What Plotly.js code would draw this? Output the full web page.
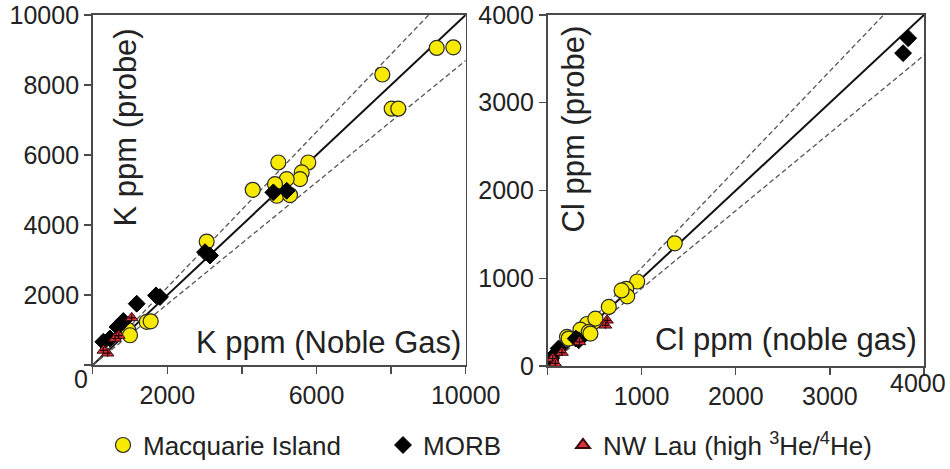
<!DOCTYPE html>
<html>
<head>
<meta charset="utf-8">
<script src="https://cdn.plot.ly/plotly-3.0.1.min.js"></script>
<style>html,body{margin:0;padding:0;background:#fff;}#chart{width:950px;height:469px;}</style>
</head>
<body>
<div id="chart"></div>
<script>
// ---- K panel data (ppm): noble gas (x) vs probe (y)
const macK_x = [9223, 9668, 7764, 8016, 8193, 4976, 5780, 5603, 5558, 5201, 4290, 4887, 4933, 5290, 3056, 1448, 1555, 955, 1000];
const macK_y = [9058, 9076, 8299, 7323, 7323, 5787, 5787, 5502, 5312, 5312, 5007, 5169, 4837, 4857, 3528, 1235, 1252, 996, 853];
const morbK_x = [4843, 5201, 3145, 3011, 1697, 1804, 1180, 821, 665, 285, 464];
const morbK_y = [4933, 4979, 3130, 3226, 1992, 1946, 1755, 1260, 1092, 666, 760];
const lauK_x = [1046, 700, 598, 400, 285];
const lauK_y = [1350, 845, 760, 340, 420];

// ---- Cl panel data (ppm)
const macCl_x = [1352, 953, 836, 847, 787, 651, 491, 420, 509, 350, 438, 207, 225, 456];
const macCl_y = [1399, 964, 881, 795, 862, 674, 503, 480, 541, 415, 390, 333, 314, 371];
const morbCl_x = [3832, 3778, 40, 118, 300, 331];
const morbCl_y = [3735, 3565, 90, 201, 314, 295];
const lauCl_x = [633, 616, 340, 154, 55, 83];
const lauCl_y = [522, 465, 276, 155, 87, 31];

// ---- reference lines (1:1 and bounding dashed lines)
const kLineX = [0, 10000];
const clLineX = [0, 4000];
const kSlopes = {upper: 1.11, lower: 0.87};
const clSlopes = {upper: 1.12, lower: 0.885};

// ---- ticks and labels
const kTickVals = [0, 2000, 4000, 6000, 8000, 10000];
const kXTickText = ['', '2000', '', '6000', '', '10000'];
const kYTickText = ['', '2000', '4000', '6000', '8000', '10000'];
const clTickVals = [0, 1000, 2000, 3000, 4000];
const clXTickText = ['', '1000', '2000', '3000', ''];
const clYTickText = ['0', '1000', '2000', '3000', '4000'];
const clLastXLabel = '4000';
const kCornerLabel = '0';
const seriesNames = ['Macquarie Island', 'MORB', 'NW Lau (high <sup>3</sup>He/<sup>4</sup>He)'];

const FONT = 'Arial, "Liberation Sans", Helvetica, sans-serif';
const W = 950, H = 469;
const px = v => v / W;
const py = v => 1 - v / H;

function lineTraces(xs, slopes, xa, ya, xmax) {
  const out = [];
  out.push({x: xs, y: xs.map(v => v), mode: 'lines', xaxis: xa, yaxis: ya,
    line: {color: '#111', width: 2}, showlegend: false, hoverinfo: 'skip'});
  // upper dashed: clip at top of the frame
  const ux = [xs[0], xmax / slopes.upper];
  out.push({x: ux, y: ux.map(v => v * slopes.upper), mode: 'lines', xaxis: xa, yaxis: ya,
    line: {color: '#555', width: 1.3, dash: '5px,3px'}, showlegend: false, hoverinfo: 'skip'});
  out.push({x: xs, y: xs.map(v => v * slopes.lower), mode: 'lines', xaxis: xa, yaxis: ya,
    line: {color: '#555', width: 1.3, dash: '5px,3px'}, showlegend: false, hoverinfo: 'skip'});
  return out;
}

const yellow = {symbol: 'circle', size: 15, color: '#f7ea00', line: {color: '#2a2a2a', width: 1.2}};
const black = {symbol: 'diamond', size: 13, color: '#000', line: {color: '#000', width: 1}};
const red = {symbol: 'triangle-up', size: 11, color: '#d8333c', line: {color: '#3a0a0a', width: 1}};
const cross = {symbol: 'cross-thin', size: 5, color: '#2a0000', line: {color: '#2a0000', width: 1.2}};

const data = [
  ...lineTraces(kLineX, kSlopes, 'x', 'y', 10000),
  ...lineTraces(clLineX, clSlopes, 'x2', 'y2', 4000),
  {x: macK_x, y: macK_y, mode: 'markers', marker: yellow, xaxis: 'x', yaxis: 'y', name: seriesNames[0], legend: 'legend', showlegend: true},
  {x: macCl_x, y: macCl_y, mode: 'markers', marker: yellow, xaxis: 'x2', yaxis: 'y2', showlegend: false},
  {x: morbK_x, y: morbK_y, mode: 'markers', marker: black, xaxis: 'x', yaxis: 'y', name: seriesNames[1], legend: 'legend2', showlegend: true},
  {x: morbCl_x, y: morbCl_y, mode: 'markers', marker: black, xaxis: 'x2', yaxis: 'y2', showlegend: false},
  {x: lauK_x, y: lauK_y, mode: 'markers', marker: red, xaxis: 'x', yaxis: 'y', name: seriesNames[2], legend: 'legend3', showlegend: true},
  {x: lauCl_x, y: lauCl_y, mode: 'markers', marker: red, xaxis: 'x2', yaxis: 'y2', showlegend: false},
  {x: lauK_x, y: lauK_y, mode: 'markers', marker: cross, xaxis: 'x', yaxis: 'y', showlegend: false, hoverinfo: 'skip'},
  {x: lauCl_x, y: lauCl_y, mode: 'markers', marker: cross, xaxis: 'x2', yaxis: 'y2', showlegend: false, hoverinfo: 'skip'}
];

const axisCommon = {
  showgrid: false, zeroline: false, showline: true, mirror: true,
  linecolor: '#4a4a4a', linewidth: 1.6, ticks: 'outside', ticklen: 7, tickwidth: 1.4,
  tickcolor: '#4a4a4a', tickfont: {family: FONT, size: 25, color: '#222'}, tickmode: 'array',
  ticklabeloverflow: 'allow'
};

const legendCommon = {orientation: 'h', yanchor: 'middle', xanchor: 'left', bgcolor: 'rgba(0,0,0,0)',
  font: {family: FONT, size: 26, color: '#222'}, itemclick: false, itemdoubleclick: false};

const titleFont = {family: FONT, size: 31, color: '#222'};
const tickFont = {family: FONT, size: 25, color: '#222'};

const layout = {
  width: W, height: H,
  margin: {l: 0, r: 0, t: 0, b: 0},
  paper_bgcolor: '#fff', plot_bgcolor: '#fff',
  showlegend: true,
  xaxis: Object.assign({}, axisCommon, {domain: [px(92.7), px(465.7)], range: [0, 10000], anchor: 'y',
    tickvals: kTickVals, ticktext: kXTickText}),
  yaxis: Object.assign({}, axisCommon, {domain: [py(366.7), py(15)], range: [0, 10000], anchor: 'x',
    tickvals: kTickVals, ticktext: kYTickText}),
  xaxis2: Object.assign({}, axisCommon, {domain: [px(547.5), px(924)], range: [0, 4000], anchor: 'y2',
    tickvals: clTickVals, ticktext: clXTickText}),
  yaxis2: Object.assign({}, axisCommon, {domain: [py(367.7), py(15)], range: [0, 4000], anchor: 'x2',
    tickvals: clTickVals, ticktext: clYTickText}),
  legend: Object.assign({}, legendCommon, {x: px(103), y: py(447)}),
  legend2: Object.assign({}, legendCommon, {x: px(383), y: py(447)}),
  legend3: Object.assign({}, legendCommon, {x: px(563), y: py(447), itemsizing: 'constant'}),
  annotations: [
    {text: 'K ppm (probe)', textangle: -90, x: px(125), y: py(128), xref: 'paper', yref: 'paper',
      xanchor: 'center', yanchor: 'middle', showarrow: false, font: titleFont},
    {text: 'K ppm (Noble Gas)', x: px(463), y: py(344), xref: 'paper', yref: 'paper',
      xanchor: 'right', yanchor: 'middle', showarrow: false, font: titleFont},
    {text: 'Cl ppm (probe)', textangle: -90, x: px(573), y: py(130), xref: 'paper', yref: 'paper',
      xanchor: 'center', yanchor: 'middle', showarrow: false, font: titleFont},
    {text: 'Cl ppm (noble gas)', x: px(919), y: py(341), xref: 'paper', yref: 'paper',
      xanchor: 'right', yanchor: 'middle', showarrow: false, font: titleFont},
    {text: kCornerLabel, x: px(81), y: py(381), xref: 'paper', yref: 'paper',
      xanchor: 'center', yanchor: 'middle', showarrow: false, font: tickFont},
    {text: clLastXLabel, x: px(948), y: py(385), xref: 'paper', yref: 'paper',
      xanchor: 'right', yanchor: 'middle', showarrow: false, font: tickFont}
  ]
};

Plotly.newPlot('chart', data, layout, {staticPlot: true, displayModeBar: false});
</script>
</body>
</html>
